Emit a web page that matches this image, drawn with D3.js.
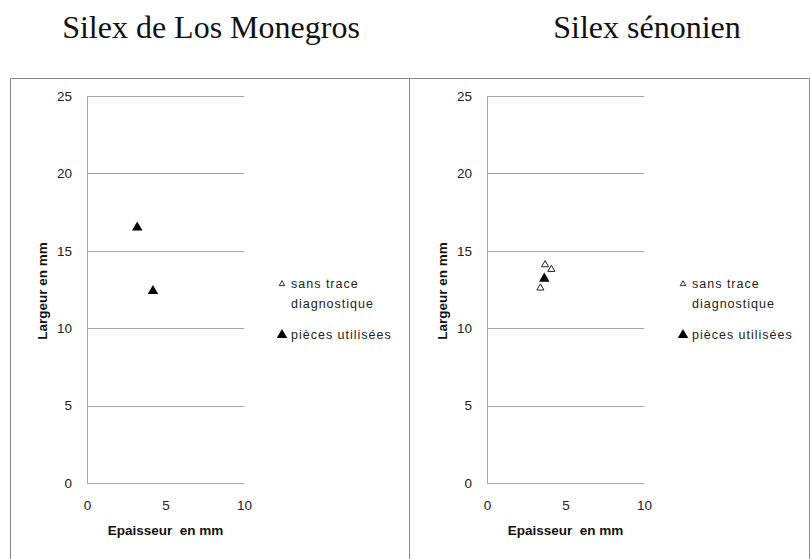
<!DOCTYPE html>
<html><head><meta charset="utf-8">
<script src="https://cdn.jsdelivr.net/npm/d3@7"></script>
<style>body{margin:0;background:#fff}svg{display:block}</style>
</head><body>
<script>
const panelTitles = ["Silex de Los Monegros", "Silex sénonien"];
const xTicks = [0, 5, 10];
const yTicks = [0, 5, 10, 15, 20, 25];
const xTitle = "Epaisseur  en mm";
const yTitle = "Largeur en mm";
const legendLabels = [["sans trace", "diagnostique"], ["pièces utilisées"]];
// panel 1: Los Monegros
const monegrosSans = [];
const monegrosUtil = [[3.2, 16.5], [4.2, 12.4]];
// panel 2: sénonien
const senonSans = [[3.7, 14.1], [4.1, 13.8], [3.4, 12.6]];
const senonUtil = [[3.65, 13.2]];

const W = 810, H = 559;
const svg = d3.select("body").append("svg").attr("width", W).attr("height", H);

const panels = [
  {title: panelTitles[0], titleX: 211, left: 10, right: 409, axisX: 87, sans: monegrosSans, util: monegrosUtil, legX: 282},
  {title: panelTitles[1], titleX: 647, left: 409, right: 809, axisX: 487, sans: senonSans, util: senonUtil, legX: 683}
];

const tri = d3.symbol().type(d3.symbolTriangle);
const sans = "Liberation Sans, Arial, sans-serif";

panels.forEach(p => {
  svg.append("text").attr("x", p.titleX).attr("y", 38).attr("text-anchor", "middle")
    .attr("font-family", "Liberation Serif, serif").attr("font-size", 32).attr("fill", "#111")
    .text(p.title);
  svg.append("rect").attr("x", p.left + 0.5).attr("y", 78.5).attr("width", p.right - p.left).attr("height", 500)
    .attr("fill", "none").attr("stroke", "#888").attr("stroke-width", 1);

  const x = d3.scaleLinear().domain([0, 10]).range([p.axisX, p.axisX + 157]);
  const y = d3.scaleLinear().domain([0, 25]).range([483, 96]);
  const g = svg.append("g");

  g.selectAll("line.grid").data(yTicks).join("line")
    .attr("x1", x(0)).attr("x2", x(10)).attr("y1", d => Math.round(y(d)) + 0.5).attr("y2", d => Math.round(y(d)) + 0.5)
    .attr("stroke", "#a6a6a6").attr("stroke-width", 1);
  g.append("line").attr("x1", Math.round(x(0)) + 0.5).attr("x2", Math.round(x(0)) + 0.5)
    .attr("y1", y(25)).attr("y2", y(0)).attr("stroke", "#a6a6a6");

  const yAxis = d3.axisLeft(y).tickValues(yTicks).tickSize(0).tickPadding(15);
  const ya = g.append("g").attr("transform", `translate(${x(0)},0)`).call(yAxis);
  ya.select(".domain").remove();
  ya.selectAll("text").attr("font-family", sans).attr("font-size", 13.5).attr("fill", "#222");

  const xAxis = d3.axisBottom(x).tickValues(xTicks).tickSize(0).tickPadding(17);
  const xa = g.append("g").attr("transform", `translate(0,${y(0)})`).call(xAxis);
  xa.select(".domain").remove();
  xa.selectAll("text").attr("font-family", sans).attr("font-size", 13.5).attr("fill", "#222");

  g.append("text").attr("x", x(5)).attr("y", 535).attr("text-anchor", "middle")
    .attr("font-family", sans).attr("font-weight", "bold").attr("font-size", 13.5).attr("fill", "#111")
    .attr("xml:space", "preserve").style("white-space", "pre").text(xTitle);
  g.append("text").attr("transform", `translate(${p.axisX - 40},${y(12.4)}) rotate(-90)`).attr("text-anchor", "middle")
    .attr("font-family", sans).attr("font-weight", "bold").attr("font-size", 13.5).attr("fill", "#111")
    .text(yTitle);

  g.selectAll("path.sans").data(p.sans).join("path")
    .attr("transform", d => `translate(${x(d[0])},${y(d[1])})`)
    .attr("d", tri.size(22)()).attr("fill", "#fff").attr("stroke", "#222").attr("stroke-width", 1);
  g.selectAll("path.util").data(p.util).join("path")
    .attr("transform", d => `translate(${x(d[0])},${y(d[1])})`)
    .attr("d", tri.size(48)()).attr("fill", "#000");

  const lg = svg.append("g").attr("font-family", sans).attr("font-size", 12.5).attr("letter-spacing", 1).attr("fill", "#222");
  lg.append("path").attr("transform", `translate(${p.legX},284)`).attr("d", tri.size(14)()).attr("fill", "#fff").attr("stroke", "#333");
  lg.append("text").attr("x", p.legX + 9).attr("y", 288).text(legendLabels[0][0]);
  lg.append("text").attr("x", p.legX + 9).attr("y", 308).text(legendLabels[0][1]);
  lg.append("path").attr("transform", `translate(${p.legX},335)`).attr("d", tri.size(48)()).attr("fill", "#000");
  lg.append("text").attr("x", p.legX + 9).attr("y", 339).text(legendLabels[1][0]);
});
</script>
</body></html>
